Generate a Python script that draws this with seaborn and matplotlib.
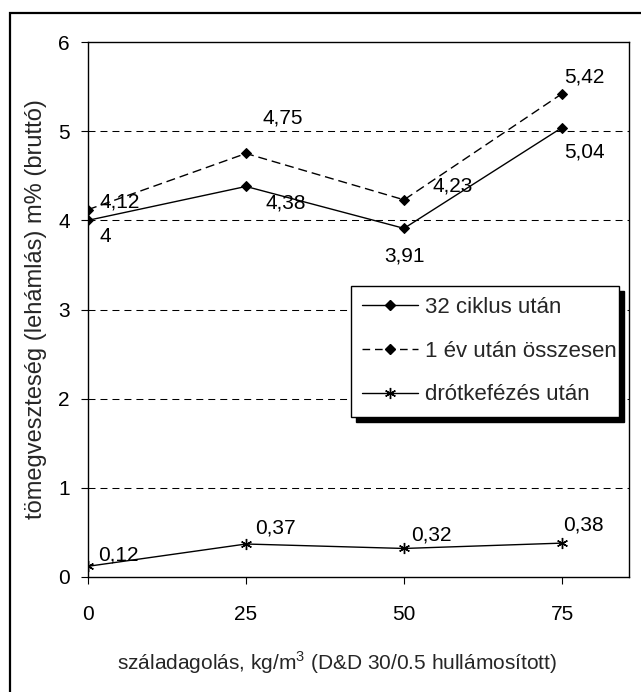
import matplotlib
matplotlib.use("Agg")
import matplotlib.pyplot as plt
import seaborn as sns
import pandas as pd
from matplotlib.patches import Rectangle
from matplotlib.lines import Line2D

# ---- data ----
dosage = [0, 25, 50, 75]
cycles32 = [4.00, 4.38, 3.91, 5.04]
year1 = [4.12, 4.75, 4.23, 5.42]
brushed = [0.12, 0.37, 0.32, 0.38]
labels_cycles32 = ["4", "4,38", "3,91", "5,04"]
labels_year1 = ["4,12", "4,75", "4,23", "5,42"]
labels_brushed = ["0,12", "0,37", "0,32", "0,38"]
series_names = ["32 ciklus után", "1 év után összesen", "drótkefézés után"]
yticks = [0, 1, 2, 3, 4, 5, 6]
xticks = [0, 25, 50, 75]

sns.set_style("white")
plt.rcParams['font.family'] = ['Liberation Sans', 'DejaVu Sans']
plt.rcParams['mathtext.fontset'] = 'custom'
plt.rcParams['mathtext.rm'] = 'Liberation Sans'

W, H = 641, 692
fig = plt.figure(figsize=(W / 100, H / 100), dpi=100)
ax = fig.add_axes([88 / W, 1 - 577 / H, (629 - 88) / W, (577 - 42) / H])

df = pd.DataFrame({"x": dosage, "a": cycles32, "b": year1, "c": brushed})

MS = 4.6
sns.lineplot(data=df, x="x", y="a", ax=ax, color="black", lw=1.0,
             marker="D", markersize=MS, markeredgecolor="black", markerfacecolor="black")
sns.lineplot(data=df, x="x", y="b", ax=ax, color="black", lw=1.0,
             linestyle=(0, (6.5, 3.5)),
             marker="D", markersize=MS, markeredgecolor="black", markerfacecolor="black")
sns.lineplot(data=df, x="x", y="c", ax=ax, color="black", lw=1.0,
             marker=(6, 2, 0), markersize=8, markeredgewidth=1.0,
             markeredgecolor="black")

ax.set_xlim(0, 85.6)
ax.set_ylim(0, 6)
ax.set_xticks(xticks)
ax.set_yticks(yticks)
ax.set_xticklabels([str(v) for v in xticks])
ax.set_yticklabels([str(v) for v in yticks])

for yv in yticks[1:-1]:
    ax.axhline(yv, color="black", lw=0.75, linestyle=(0, (6.7, 4.8)), zorder=0.5)

for s in ax.spines.values():
    s.set_color("black")
    s.set_linewidth(1.0)
    s.set_visible(True)

ax.tick_params(axis="y", which="both", left=True, right=False, direction="out",
               length=5, width=0.8, pad=8, labelsize=15, colors="black")
ax.tick_params(axis="x", which="both", bottom=True, top=False, direction="out",
               length=5, width=0.8, pad=15, labelsize=15, colors="black")

ax.set_xlabel("száladagolás, kg/m$^3$ (D&D 30/0.5 hullámosított)", fontsize=15)
ax.xaxis.set_label_coords((337 - 88) / (629 - 88), -(663 - 577) / (577 - 42))
ax.xaxis.label.set_va("center")
ax.set_ylabel("tömegveszteség (lehámlás) m% (bruttó)", fontsize=17, labelpad=8)

PT = 0.72  # px -> pt at 100 dpi
def lab(xv, yv, text, dx, dy, ha="left"):
    ax.annotate(text, (xv, yv), xytext=(dx * PT, dy * PT), textcoords="offset points",
                ha=ha, va="center", fontsize=15, color="black", annotation_clip=False)

offs_a = [(12, -16, "left"), (19, -17, "left"), (0, -28, "center"), (2, -24, "left")]
offs_b = [(12, 8, "left"), (16, 35, "left"), (28, 14, "left"), (2, 17, "left")]
offs_c = [(10, 11, "left"), (9, 16, "left"), (7, 13, "left"), (1, 18, "left")]
for xs, ys, ls, offs in [(dosage, cycles32, labels_cycles32, offs_a),
                         (dosage, year1, labels_year1, offs_b),
                         (dosage, brushed, labels_brushed, offs_c)]:
    for xv, yv, t, (dx, dy, ha) in zip(xs, ys, ls, offs):
        lab(xv, yv, t, dx, dy, ha)

handles = [
    Line2D([], [], color="black", lw=1.0, marker="D", markersize=MS),
    Line2D([], [], color="black", lw=1.0, linestyle=(0, (5.5, 3.5)), marker="D", markersize=MS),
    Line2D([], [], color="black", lw=1.0, marker=(6, 2, 0), markersize=8, markeredgewidth=1.0),
]
ax_w = 629 - 88
ax_h = 577 - 42
lx0 = (351 - 88) / ax_w
lx1 = (619 - 88) / ax_w
ly1 = (577 - 286) / ax_h
leg = ax.legend(handles, series_names, loc="upper left",
                bbox_to_anchor=(lx0, ly1 - 0.5, lx1 - lx0, 0.5), mode="expand",
                borderaxespad=0, fontsize=16, frameon=True, fancybox=False,
                edgecolor="black", framealpha=1, handlelength=2.5,
                handletextpad=0.32, labelspacing=1.02, borderpad=0.5)
leg.get_frame().set_linewidth(1.0)
leg.set_zorder(5)

fig.canvas.draw()
bb = leg.get_window_extent()
shadow = Rectangle((bb.x0 + 5, bb.y0 - 5), bb.width, bb.height,
                   transform=None, facecolor="black", edgecolor="black", zorder=4)
ax.add_artist(shadow)

# outer chart frame
frame = Rectangle((10 / W, -0.1), 1.2, (H - 13) / H + 0.1, transform=fig.transFigure,
                  facecolor="none", edgecolor="black", lw=1.6)
fig.add_artist(frame)

fig.savefig("out.png", dpi=100)
